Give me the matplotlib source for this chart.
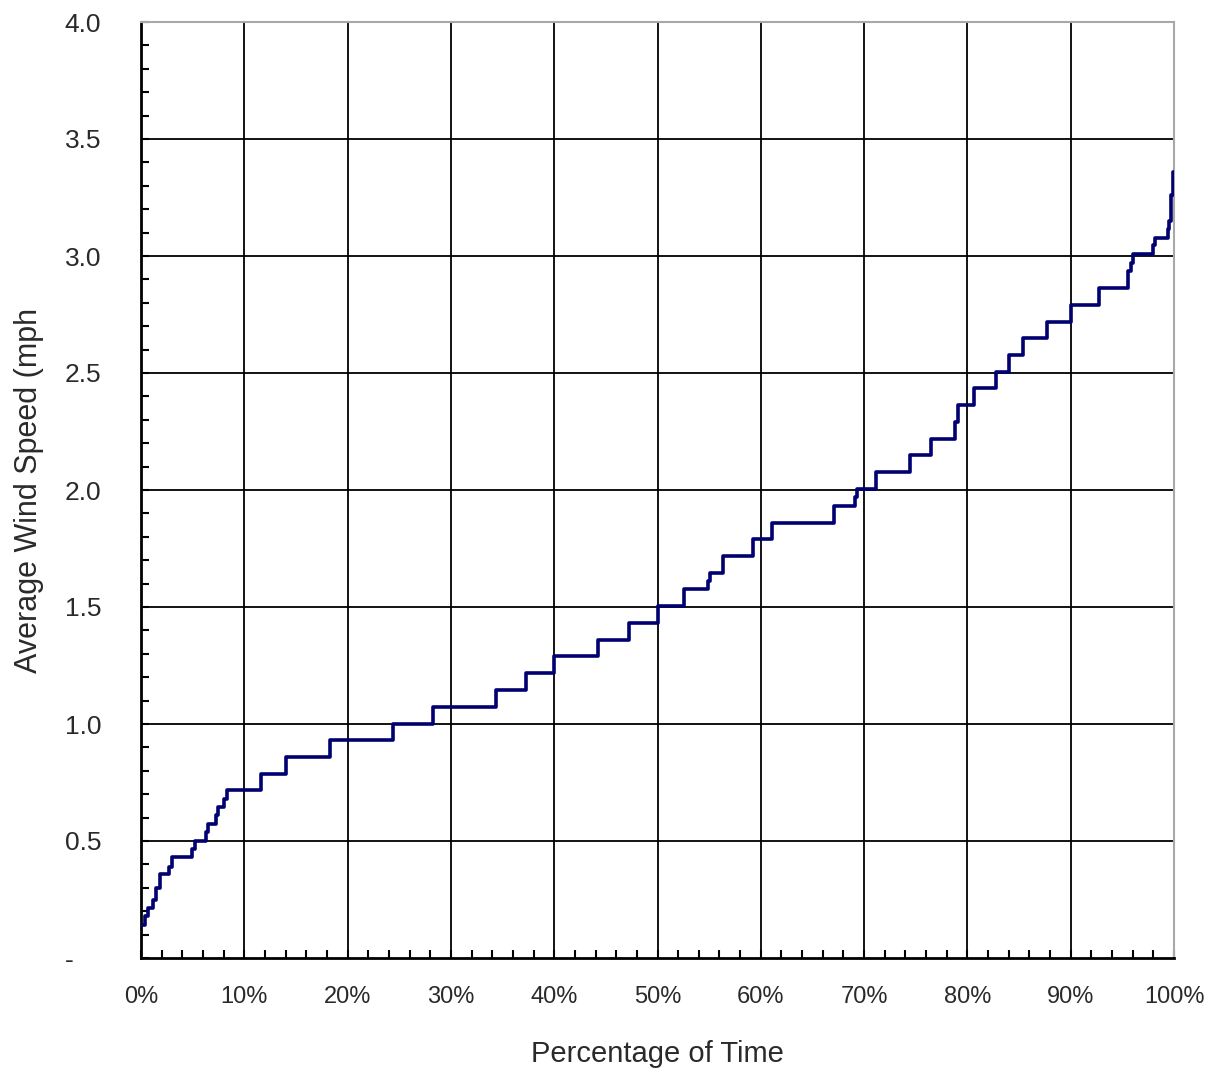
import matplotlib
matplotlib.use("Agg")
import matplotlib.pyplot as plt
from matplotlib.ticker import MultipleLocator

# ---- data ----
pct_time = [0.0, 0.4, 0.7, 1.2, 1.5, 1.8, 2.7, 3.0, 4.9, 5.2, 6.3, 6.5, 7.3, 7.5, 8.0, 8.3,
            11.6, 14.0, 18.3, 24.4, 28.3, 34.4, 37.3, 40.0, 44.2, 47.2, 50.0, 52.6,
            54.9, 55.1, 56.3, 59.2, 61.1, 67.1, 69.1, 69.3, 71.2, 74.4, 76.5, 78.8, 79.1,
            80.6, 82.8, 84.0, 85.4, 87.7, 90.0, 92.7, 95.5, 95.8, 96.0, 98.0, 98.2,
            99.4, 99.55, 99.75, 99.9, 100.0]
wind_speed = [0.143, 0.179, 0.215, 0.25, 0.30, 0.358, 0.39, 0.43, 0.466, 0.50, 0.537, 0.573,
              0.61, 0.645, 0.68, 0.716,
              0.788, 0.859, 0.931, 1.002, 1.074, 1.146, 1.217, 1.289, 1.36, 1.432, 1.504, 1.575,
              1.61, 1.647, 1.718, 1.79, 1.861, 1.933, 1.97, 2.005, 2.076, 2.148, 2.22, 2.291, 2.363,
              2.434, 2.506, 2.577, 2.649, 2.72, 2.792, 2.864, 2.935, 2.97, 3.007, 3.045, 3.078,
              3.115, 3.15, 3.26, 3.36, 3.36]

x_ticks = [0, 10, 20, 30, 40, 50, 60, 70, 80, 90, 100]
x_tick_labels = ["0%", "10%", "20%", "30%", "40%", "50%", "60%", "70%", "80%", "90%", "100%"]
y_ticks = [0.0, 0.5, 1.0, 1.5, 2.0, 2.5, 3.0, 3.5, 4.0]
y_tick_labels = ["-", "0.5", "1.0", "1.5", "2.0", "2.5", "3.0", "3.5", "4.0"]

x_label = "Percentage of Time"
y_label = "Average Wind Speed (mph"

# ---- figure ----
plt.rcParams['font.family'] = ['Liberation Sans', 'DejaVu Sans']
fig = plt.figure(figsize=(12.14, 10.74), dpi=100)
ax = fig.add_axes([141/1214, 1 - 958/1074, (1174-141)/1214, (958-22)/1074])

ax.step(pct_time, wind_speed, where='post', color='#000070', linewidth=2.6, zorder=3)

ax.set_xlim(0, 100)
ax.set_ylim(0, 4.0)
ax.set_xticks(x_ticks)
ax.set_xticklabels(x_tick_labels, fontsize=17, color='#2a2a2a')
ax.set_yticks(y_ticks)
ax.set_yticklabels(y_tick_labels, fontsize=19, color='#2a2a2a', ha='left')
ax.xaxis.set_minor_locator(MultipleLocator(2))
ax.yaxis.set_minor_locator(MultipleLocator(0.1))

ax.tick_params(axis='both', which='both', direction='in', color='black')
ax.tick_params(axis='both', which='minor', length=6, width=1.5)
ax.tick_params(axis='both', which='major', length=6, width=1.5)
ax.tick_params(axis='x', which='major', pad=20)
ax.tick_params(axis='y', which='major', pad=55)

ax.grid(True, which='major', color='black', linewidth=1.3)
for gl in (ax.get_xgridlines()[0], ax.get_xgridlines()[-1],
           ax.get_ygridlines()[0], ax.get_ygridlines()[-1]):
    gl.set_visible(False)

for side in ('left', 'bottom'):
    ax.spines[side].set_color('black')
    ax.spines[side].set_linewidth(2)
for side in ('top', 'right'):
    ax.spines[side].set_color('#a8a8a8')
    ax.spines[side].set_linewidth(1.5)

ax.set_xlabel(x_label, fontsize=21, color='#2a2a2a', labelpad=23)
ax.set_ylabel(y_label, fontsize=22, color='#2a2a2a')
ax.yaxis.set_label_coords(-(141-44)/1033, 0.5)

fig.savefig("out.png", dpi=100, facecolor='white')
